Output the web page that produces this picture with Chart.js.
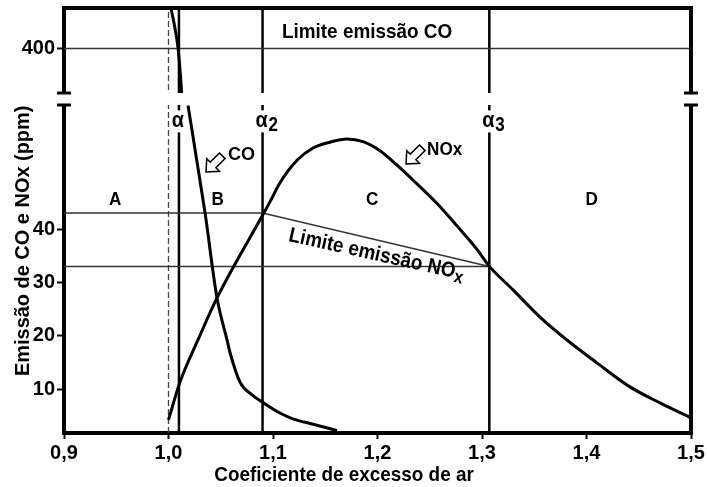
<!DOCTYPE html>
<html>
<head>
<meta charset="utf-8">
<script src="https://cdn.jsdelivr.net/npm/chart.js@4.4.0/dist/chart.umd.min.js"></script>
<style>
    html, body { margin: 0; padding: 0; background: #fff; }
    #wrap { width: 707px; height: 487px; }
</style>
</head>
<body>
<div id="wrap"><canvas id="grafico" width="707" height="487"></canvas></div>
<script>
// Eixo x: coeficiente de excesso de ar
const xTicks = [0.9, 1.0, 1.1, 1.2, 1.3, 1.4, 1.5];
const xTickLabels = ['0,9', '1,0', '1,1', '1,2', '1,3', '1,4', '1,5'];
// Eixo y quebrado: parte de baixo e parte de cima
const yLowTicks = [10, 20, 30, 40];
const yHighTicks = [400];

// Curva CO acima da quebra
const coHighCoef = [1.000, 1.0024, 1.0062, 1.0091, 1.0113, 1.0128];
const coHighPpm = [510, 480, 440, 401, 350, 305];
// Curva CO abaixo da quebra
const coLowCoef = [1.0187, 1.0273, 1.035, 1.0464, 1.056, 1.0589, 1.0684, 1.0799, 1.0895, 1.1067, 1.1191, 1.1383, 1.1593, 1.1612];
const coLowPpm = [63.2, 52.6, 43.0, 27.1, 19.2, 16.8, 11.3, 8.9, 7.6, 5.5, 4.4, 3.4, 2.3, 2.2];
// Curva NOx
const noxCoef = [1.0, 1.011, 1.0282, 1.0464, 1.0895, 1.0971, 1.1067, 1.123, 1.1383, 1.1545, 1.1708, 1.1861, 1.2024, 1.2187, 1.234, 1.257, 1.2761, 1.2952, 1.3067, 1.3297, 1.3555, 1.3813, 1.41, 1.4416, 1.4703, 1.5];
const noxPpm = [4.2, 11.3, 19.2, 27.1, 42.4, 45.1, 48.7, 52.9, 55.2, 56.3, 56.9, 56.4, 54.7, 52.0, 49.2, 44.8, 40.6, 36.2, 33.1, 28.6, 23.5, 19.2, 14.9, 10.4, 7.4, 4.6];

// Limites de emissão
const limiteCO = 400;
const limiteNOxAlto = 43;
const limiteNOxBaixo = 33;
// alfa 1, 2, 3 e ar estequiométrico
const alfaCoef = [1.01, 1.09, 1.307];
const alfaSub = ['', '2', '3'];
const estequiometrico = 1.0;
const regioes = ['A', 'B', 'C', 'D'];

// faixas dos eixos
const yLowMin = 1.75, yLowMax = 64.4;
const yTopMin = 300, yTopMax = 480;

const FONTE = "'Liberation Sans', Arial, sans-serif";

function pontos(xs, ys) {
    return xs.map((v, i) => ({ x: v, y: ys[i] }));
}

function linha(data, eixo, extra) {
    return Object.assign({
        data: data,
        yAxisID: eixo,
        borderColor: '#000',
        borderWidth: 1.5,
        pointRadius: 0,
        fill: false
    }, extra || {});
}

const datasets = [
    linha(pontos(coHighCoef, coHighPpm), 'yTop', { borderWidth: 3, cubicInterpolationMode: 'monotone' }),
    linha(pontos(coLowCoef, coLowPpm), 'y', { borderWidth: 3, cubicInterpolationMode: 'monotone' }),
    linha(pontos(noxCoef, noxPpm), 'y', { borderWidth: 3, cubicInterpolationMode: 'monotone' }),
    // limite CO
    linha(pontos([0.9, 1.5], [limiteCO, limiteCO]), 'yTop', { borderColor: '#333', borderWidth: 1.5 }),
    // limite NOx
    linha(pontos([0.9, alfaCoef[1], alfaCoef[2]], [limiteNOxAlto, limiteNOxAlto, limiteNOxBaixo]), 'y', { borderColor: '#333', borderWidth: 1.5 }),
    linha(pontos([0.9, alfaCoef[2]], [limiteNOxBaixo, limiteNOxBaixo]), 'y', { borderColor: '#333', borderWidth: 1.5 }),
    // estequiométrico tracejado
    linha(pontos([estequiometrico, estequiometrico], [yLowMin, yLowMax]), 'y', { borderColor: '#444', borderWidth: 1.3, borderDash: [6, 3] }),
    linha(pontos([estequiometrico, estequiometrico], [yTopMin, yTopMax]), 'yTop', { borderColor: '#444', borderWidth: 1.3, borderDash: [6, 3] })
];

// linhas verticais alfa
alfaCoef.forEach(a => {
    datasets.push(linha(pontos([a, a], [yLowMin, yLowMax]), 'y', { borderWidth: 2.5 }));
    datasets.push(linha(pontos([a, a], [yTopMin, yTopMax]), 'yTop', { borderWidth: 2.5 }));
});

function seta(ctx, px, py) {
    // seta vazada apontando para baixo/esquerda
    ctx.save();
    ctx.translate(px, py);
    ctx.rotate(Math.PI * 0.75);
    ctx.beginPath();
    ctx.moveTo(0, 0);
    ctx.lineTo(-10, -9);
    ctx.lineTo(-10, -4);
    ctx.lineTo(-23, -4);
    ctx.lineTo(-23, 4);
    ctx.lineTo(-10, 4);
    ctx.lineTo(-10, 9);
    ctx.closePath();
    ctx.fillStyle = '#fff';
    ctx.fill();
    ctx.lineWidth = 1.5;
    ctx.strokeStyle = '#000';
    ctx.stroke();
    ctx.restore();
}

// texto com compressão horizontal (fonte estreita do original)
function texto(ctx, s, px, py, size, sx, align, ang) {
    ctx.save();
    ctx.translate(px, py);
    if (ang) ctx.rotate(ang);
    ctx.scale(sx, 1);
    ctx.font = 'bold ' + size + 'px ' + FONTE;
    ctx.textAlign = align || 'center';
    ctx.textBaseline = 'middle';
    ctx.fillStyle = '#000';
    ctx.fillText(s, 0, 0);
    ctx.restore();
}

const desenhos = {
    id: 'desenhos',
    afterDatasetsDraw(chart) {
        const { ctx, chartArea: a, scales } = chart;
        const x = scales.x, y = scales.y, yt = scales.yTop;
        const brk = yt.bottom;
        ctx.save();

        // moldura de cima e da direita
        ctx.strokeStyle = '#000';
        ctx.lineWidth = 4;
        ctx.beginPath();
        ctx.moveTo(a.left - 2, a.top);
        ctx.lineTo(a.right + 2, a.top);
        ctx.moveTo(a.right, a.top);
        ctx.lineTo(a.right, a.bottom + 2);
        ctx.stroke();

        // quebra do eixo
        ctx.fillStyle = '#fff';
        ctx.fillRect(a.left - 12, brk - 6, a.width + 24, 12);
        ctx.lineWidth = 3;
        [a.left, a.right].forEach(px => {
            [brk - 6, brk + 6].forEach(py => {
                ctx.beginPath();
                ctx.moveTo(px - 7, py);
                ctx.lineTo(px + 7, py);
                ctx.stroke();
            });
        });

        // rótulos alfa
        const yAlfa = y.getPixelForValue(60.2);
        alfaCoef.forEach((c, i) => {
            const px = x.getPixelForValue(c);
            ctx.fillStyle = '#fff';
            ctx.fillRect(px - 4, yAlfa - 11, 8, 22);
            texto(ctx, 'α', px - 1, yAlfa, 22, 0.9, 'center');
            if (alfaSub[i]) {
                texto(ctx, alfaSub[i], px + 6, yAlfa + 4, 20, 0.85, 'left');
            }
        });

        // regiões
        const regiaoCoef = [0.949, 1.047, 1.195, 1.405];
        regioes.forEach((r, i) => {
            texto(ctx, r, x.getPixelForValue(regiaoCoef[i]), y.getPixelForValue(45.5), 18, 0.95, 'center');
        });

        // limite CO
        texto(ctx, 'Limite emissão CO', x.getPixelForValue(1.19), yt.getPixelForValue(432), 21, 0.9, 'center');

        // limite NOx inclinado
        const ang = 12.5 * Math.PI / 180;
        ctx.save();
        ctx.font = 'bold 21px ' + FONTE;
        const w1 = ctx.measureText('Limite emissão NO').width * 0.9;
        ctx.font = 'bold 18px ' + FONTE;
        const w2 = ctx.measureText('x').width * 0.9;
        ctx.restore();
        const cx = x.getPixelForValue(1.199), cy = y.getPixelForValue(35.2);
        const x0 = -(w1 + w2) / 2;
        texto(ctx, 'Limite emissão NO', cx + x0 * Math.cos(ang), cy + x0 * Math.sin(ang), 21, 0.9, 'left', ang);
        const xs = x0 + w1;
        texto(ctx, 'x', cx + xs * Math.cos(ang) - 5 * Math.sin(ang), cy + xs * Math.sin(ang) + 5 * Math.cos(ang), 18, 0.9, 'left', ang);

        // setas CO e NOx
        seta(ctx, x.getPixelForValue(1.0359), y.getPixelForValue(50.7));
        seta(ctx, x.getPixelForValue(1.2273), y.getPixelForValue(52.2));
        texto(ctx, 'CO', x.getPixelForValue(1.0569), y.getPixelForValue(53.9), 19, 0.95, 'left');
        texto(ctx, 'NOx', x.getPixelForValue(1.2474), y.getPixelForValue(54.8), 19, 0.9, 'left');

        // títulos dos eixos
        texto(ctx, 'Coeficiente de excesso de ar', x.getPixelForValue(1.168), a.bottom + 42, 21, 0.9, 'center');
        texto(ctx, 'Emissão de CO e NOx (ppm)', a.left - 41, y.getPixelForValue(37.8), 21, 0.95, 'center', -Math.PI / 2);

        ctx.restore();
    }
};

function eixoY(ticks) {
    return function (scale) {
        scale.ticks = ticks.map(v => ({ value: v }));
    };
}

function larguraY(scale) {
    scale.width = 64;
    scale.paddingTop = 0;
    scale.paddingBottom = 0;
}

const fonteTicks = { family: FONTE, size: 20, weight: 'bold' };

const ctx = document.getElementById('grafico').getContext('2d');
const grafico = new Chart(ctx, {
    type: 'line',
    data: { datasets: datasets },
    plugins: [desenhos],
    options: {
        responsive: false,
        animation: false,
        layout: { padding: { top: 8, right: 16, left: 0, bottom: 0 } },
        plugins: {
            legend: { display: false },
            tooltip: { enabled: false }
        },
        scales: {
            x: {
                type: 'linear',
                min: 0.9,
                max: 1.5,
                afterBuildTicks: scale => { scale.ticks = xTicks.map(v => ({ value: v })); },
                afterFit: scale => { scale.height = 54; scale.paddingLeft = 0; scale.paddingRight = 0; },
                grid: { drawOnChartArea: false, tickLength: 6, tickWidth: 2, tickColor: '#000' },
                border: { display: true, width: 4, color: '#000' },
                ticks: {
                    color: '#000',
                    padding: 2,
                    maxRotation: 0,
                    font: fonteTicks,
                    callback: (v, i) => xTickLabels[i]
                }
            },
            y: {
                type: 'linear',
                position: 'left',
                stack: 'ppm',
                stackWeight: 334,
                min: yLowMin,
                max: yLowMax,
                afterBuildTicks: eixoY(yLowTicks),
                afterFit: larguraY,
                grid: { drawOnChartArea: false, tickLength: 7, tickWidth: 2, tickColor: '#000' },
                border: { display: true, width: 4, color: '#000' },
                ticks: { color: '#000', padding: 2, font: fonteTicks }
            },
            yTop: {
                type: 'linear',
                position: 'left',
                stack: 'ppm',
                stackWeight: 91,
                min: yTopMin,
                max: yTopMax,
                afterBuildTicks: eixoY(yHighTicks),
                afterFit: larguraY,
                grid: { drawOnChartArea: false, tickLength: 7, tickWidth: 2, tickColor: '#000' },
                border: { display: true, width: 4, color: '#000' },
                ticks: { color: '#000', padding: 2, font: fonteTicks }
            }
        }
    }
});
</script>
</body>
</html>
